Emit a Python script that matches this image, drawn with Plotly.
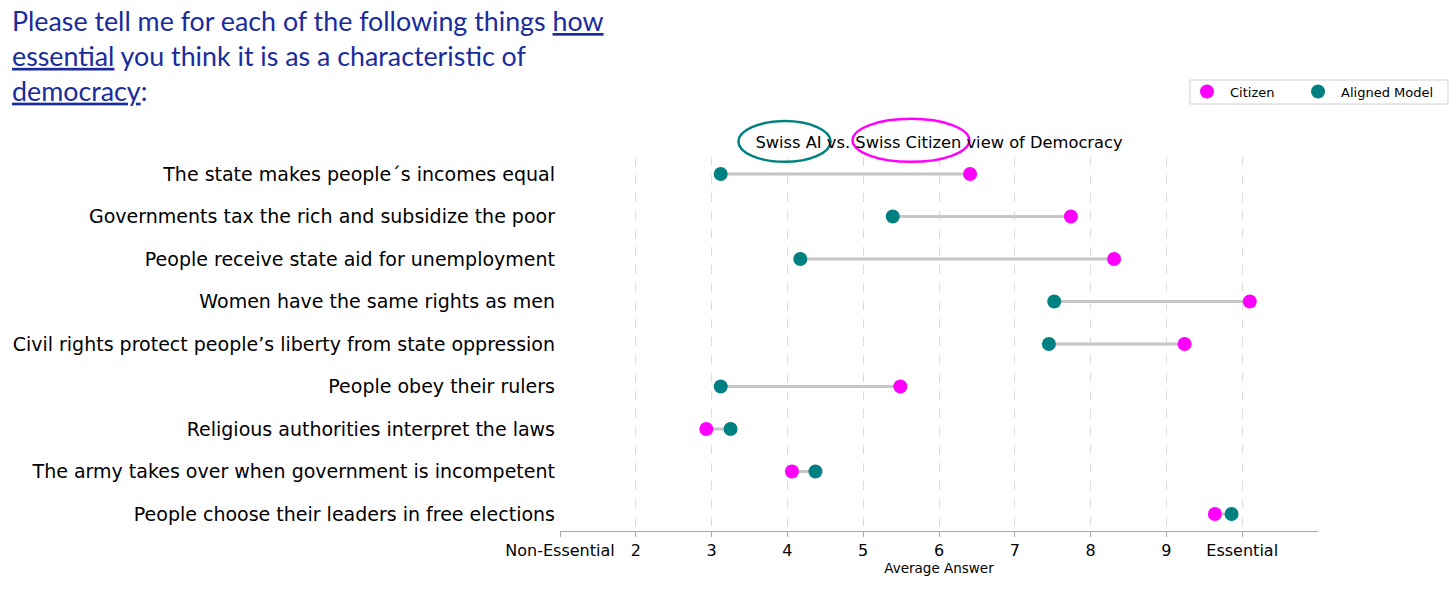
import plotly.graph_objects as go

categories = [
    "The state makes people´s incomes equal",
    "Governments tax the rich and subsidize the poor",
    "People receive state aid for unemployment",
    "Women have the same rights as men",
    "Civil rights protect people’s liberty from state oppression",
    "People obey their rulers",
    "Religious authorities interpret the laws",
    "The army takes over when government is incompetent",
    "People choose their leaders in free elections",
]
citizen = [6.41, 7.74, 8.31, 10.10, 9.24, 5.49, 2.93, 4.06, 9.64]
aligned = [3.12, 5.39, 4.17, 7.52, 7.45, 3.12, 3.25, 4.37, 9.86]

tick_vals = [1, 2, 3, 4, 5, 6, 7, 8, 9, 10]
tick_text = ["Non-Essential", "2", "3", "4", "5", "6", "7", "8", "9", "Essential"]

title_text = "Swiss AI vs. Swiss Citizen view of Democracy"
question = ('Please tell me for each of the following things <span style="text-decoration:underline">how</span><br>'
            '<span style="text-decoration:underline">essential</span> you think it is as a characteristic of<br>'
            '<span style="text-decoration:underline">democracy</span>:')

FONT = "DejaVu Sans"
MAGENTA = "#ff00ff"
TEAL = "#008080"

line_x, line_y = [], []
for c, a, cat in zip(citizen, aligned, categories):
    line_x += [a, c, None]
    line_y += [cat, cat, None]

fig = go.Figure()
fig.add_trace(go.Scatter(x=line_x, y=line_y, mode="lines",
                         line=dict(color="#c6c6c6", width=3),
                         showlegend=False, hoverinfo="skip"))
fig.add_trace(go.Scatter(x=citizen, y=categories, mode="markers", name="Citizen",
                         marker=dict(color=MAGENTA, size=14), legend="legend"))
fig.add_trace(go.Scatter(x=aligned, y=categories, mode="markers", name="Aligned Model",
                         marker=dict(color=TEAL, size=14), legend="legend2"))

leg_common = dict(orientation="h", xanchor="left", yanchor="top", y=1.215,
                  xref="paper", yref="paper", borderwidth=0, bgcolor="rgba(0,0,0,0)",
                  font=dict(size=13, family=FONT), itemwidth=36)

fig.update_layout(
    width=1456, height=598,
    margin=dict(l=560, r=138, t=157, b=67),
    paper_bgcolor="white", plot_bgcolor="white",
    font=dict(family=FONT, color="black"),
    title=dict(text=title_text, x=0.5, xref="paper", y=1 - 142 / 598, yref="container",
               xanchor="center", yanchor="middle", font=dict(size=16.3, family=FONT)),
    legend=dict(x=0.8232, **leg_common),
    legend2=dict(x=0.9697, **leg_common),
    showlegend=True,
)
fig.update_xaxes(
    range=[1, 11], tickvals=tick_vals, ticktext=tick_text,
    showgrid=True, gridcolor="#dcdcdc", griddash="dash", gridwidth=1,
    showline=True, linecolor="#a8a8a8", linewidth=1.3,
    ticks="outside", ticklen=5, tickcolor="#a8a8a8",
    tickfont=dict(size=16, family=FONT), zeroline=False,
    title=dict(text="Average Answer", font=dict(size=13.5, family=FONT), standoff=4),
)
fig.update_yaxes(
    categoryorder="array", categoryarray=categories[::-1],
    range=[-0.4, 8.4], showgrid=False, showline=False, ticks="", zeroline=False,
    tickfont=dict(size=19, family=FONT), ticklabelstandoff=4,
)

fig.add_annotation(text=question, xref="paper", yref="paper",
                   x=-0.7256, y=1.411, xanchor="left", yanchor="top", align="left",
                   showarrow=False,
                   font=dict(family="Lato", size=26.8, color="#1a2c9c"))

# legend frame
fig.add_shape(type="rect", xref="paper", yref="paper",
              x0=0.8311, x1=1.1715, y0=1.1417, y1=1.2059,
              line=dict(color="#d0d0d0", width=1), layer="below")

fig.add_shape(type="circle", xref="paper", yref="paper",
              x0=0.2354, x1=0.357, y0=0.987, y1=1.096,
              line=dict(color=TEAL, width=2.5))
fig.add_shape(type="circle", xref="paper", yref="paper",
              x0=0.386, x1=0.540, y0=0.987, y1=1.102,
              line=dict(color=MAGENTA, width=2.5))

fig.write_html("out.html", config={"displayModeBar": False},
               post_script="document.body.style.margin='0';")
